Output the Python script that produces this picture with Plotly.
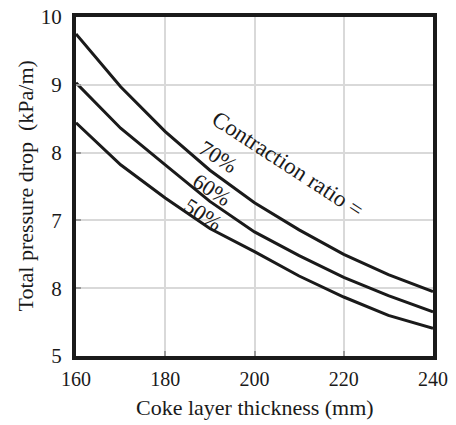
import plotly.graph_objects as go

thickness = [160, 170, 180, 190, 200, 210, 220, 230, 240]
drop_70 = [9.75, 8.97, 8.31, 7.74, 7.26, 6.86, 6.50, 6.20, 5.95]
drop_60 = [9.03, 8.36, 7.82, 7.28, 6.83, 6.48, 6.16, 5.89, 5.65]
drop_50 = [8.44, 7.82, 7.33, 6.88, 6.54, 6.18, 5.87, 5.60, 5.41]

x_ticks = [160, 180, 200, 220, 240]
y_ticks = [5, 6, 7, 8, 9, 10]
y_ticktext = ["5", "8", "7", "8", "9", "10"]

FONT = "Liberation Serif, Times New Roman, serif"
INK = "#1a1a1a"

fig = go.Figure()
for ys in (drop_70, drop_60, drop_50):
    fig.add_trace(go.Scatter(x=thickness, y=ys, mode="lines",
                             line=dict(color=INK, width=3),
                             showlegend=False, hoverinfo="skip"))

labels = [
    ("Contraction ratio =", 207.5, 7.82, 23),
    ("70%", 191.8, 7.94, 22),
    ("60%", 190.4, 7.46, 22),
    ("50%", 188.5, 7.09, 22),
]
for text, lx, ly, size in labels:
    fig.add_annotation(x=lx, y=ly, text=text, showarrow=False, textangle=33,
                       font=dict(family=FONT, size=size, color=INK))

# axis titles
fig.add_annotation(xref="paper", yref="paper", x=0.5, y=0, yanchor="middle",
                   yshift=-51, text="Coke layer thickness (mm)", showarrow=False,
                   font=dict(family=FONT, size=22, color=INK))
fig.add_annotation(xref="paper", yref="paper", x=0, y=0.5, xanchor="center",
                   xshift=-51, text="Total pressure drop  (kPa/m)", showarrow=False,
                   textangle=-90, font=dict(family=FONT, size=22, color=INK))

fig.update_layout(
    width=456, height=425,
    margin=dict(l=76, r=23, t=17, b=69, autoexpand=False),
    paper_bgcolor="white", plot_bgcolor="white",
    font=dict(family=FONT, size=18, color=INK),
)
fig.update_xaxes(range=[160, 240], tickvals=x_ticks, showgrid=True,
                 gridcolor="#d9d9d9", gridwidth=1.5, zeroline=False,
                 showline=True, linecolor=INK, linewidth=4, mirror=True,
                 ticks="inside", ticklen=5, tickwidth=1.5, tickcolor="#9a9a9a",
                 ticklabelstandoff=2, tickfont=dict(size=20), automargin=False)
fig.update_yaxes(range=[5, 10], tickvals=y_ticks, ticktext=y_ticktext, showgrid=True,
                 gridcolor="#d9d9d9", gridwidth=1.5, zeroline=False,
                 showline=True, linecolor=INK, linewidth=4, mirror=True,
                 ticks="inside", ticklen=5, tickwidth=1.5, tickcolor="#9a9a9a",
                 ticklabelstandoff=6, tickfont=dict(size=21), automargin=False)

fig.write_html("out.html", config={"displayModeBar": False},
               post_script="document.body.style.margin='0';")
